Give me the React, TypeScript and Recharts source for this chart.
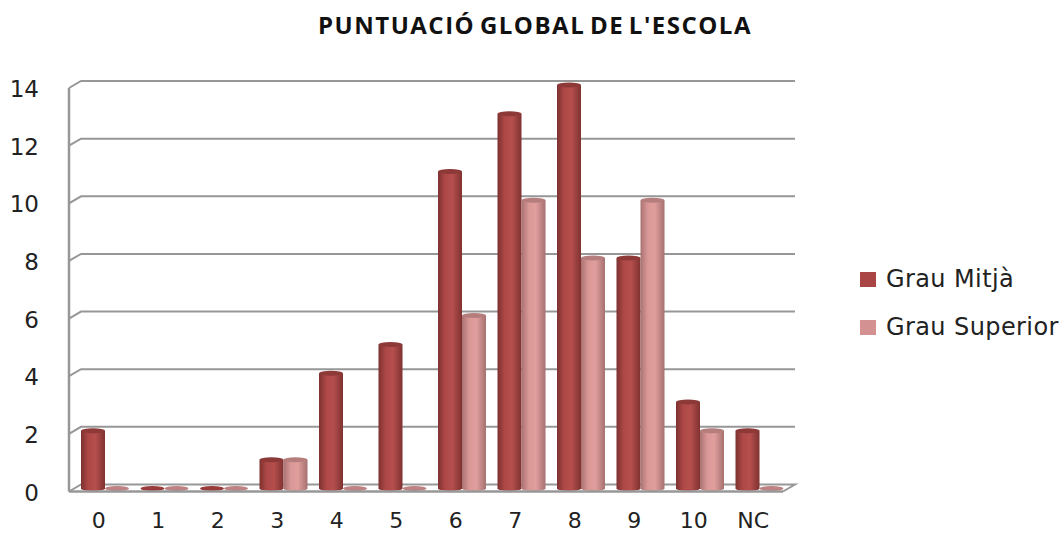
import { BarChart, Bar, XAxis, YAxis, CartesianGrid, Legend } from 'recharts'

const categories = ['0', '1', '2', '3', '4', '5', '6', '7', '8', '9', '10', 'NC']
const grauMitja = [2, 0, 0, 1, 4, 5, 11, 13, 14, 8, 3, 2]
const grauSuperior = [0, 0, 0, 1, 0, 0, 6, 10, 8, 10, 2, 0]
const yTicks = [0, 2, 4, 6, 8, 10, 12, 14]

const chartData = categories.map((name, i) => ({
  name,
  mitja: grauMitja[i],
  superior: grauSuperior[i],
}))

const TITLE_FONT = '"Open Sans", "Noto Sans", sans-serif'
const FONT = '"DejaVu Sans", sans-serif'
const WALL = '#979797'
const DEPTH_X = 12
const DEPTH_Y = 7
const PLOT_BOTTOM = 491.5

// Gridline with the short slanted segment that joins it to the back wall
function WallLine({ x1, x2, y1 }: any) {
  const back = y1 - DEPTH_Y
  const isFloor = y1 >= PLOT_BOTTOM - 1
  return (
    <path
      d={
        isFloor
          ? `M${x1},${y1} L${x1 + DEPTH_X},${back} L${x2 + DEPTH_X},${back} L${x2},${y1}`
          : `M${x1},${y1} L${x1 + DEPTH_X},${back} L${x2 + DEPTH_X},${back}`
      }
      fill="none"
      stroke={WALL}
      strokeWidth={2}
    />
  )
}

// Bars are drawn as cylinders standing in the middle of the chart's depth
function Cylinder({ x, y, width, height, gradient, cap, flat }: any) {
  const left = x + 6
  const rx = width / 2
  const ry = 2.5
  const top = y - 3
  const bottom = top + height
  if (!height) {
    return <ellipse cx={left + rx} cy={bottom} rx={rx} ry={2.5} fill={flat} />
  }
  return (
    <g>
      <path
        d={`M${left},${top} L${left},${bottom} A${rx},${ry} 0 0 0 ${left + width},${bottom} L${left + width},${top} Z`}
        fill={`url(#${gradient})`}
      />
      <ellipse cx={left + rx} cy={top} rx={rx} ry={ry} fill={cap} />
    </g>
  )
}

function LegendBox() {
  const rows = [
    { label: 'Grau Mitjà', color: '#a94645' },
    { label: 'Grau Superior', color: '#d39291' },
  ]
  return (
    <div style={{ fontFamily: FONT, fontSize: 24, letterSpacing: 0.4, color: '#222' }}>
      {rows.map((r) => (
        <div key={r.label} style={{ height: 48, display: 'flex', alignItems: 'center', whiteSpace: 'nowrap' }}>
          <span style={{ width: 16, height: 15, background: r.color, marginRight: 10, display: 'inline-block' }} />
          {r.label}
        </div>
      ))}
    </div>
  )
}

export default function App() {
  return (
    <div style={{ position: 'absolute', left: 0, top: 0, width: 1062, height: 536, background: '#fff' }}>
      <div
        style={{
          position: 'absolute',
          left: 0,
          width: 1070,
          top: 11,
          textAlign: 'center',
          fontFamily: TITLE_FONT,
          fontWeight: 700,
          fontSize: 24,
          letterSpacing: 1.5,
          wordSpacing: -3,
          color: '#111',
          lineHeight: '28px',
        }}
      >
        PUNTUACIÓ GLOBAL DE L'ESCOLA
      </div>
      <BarChart
        width={1062}
        height={536}
        data={chartData}
        margin={{ top: 88, right: 279, bottom: 0, left: 0 }}
        barGap={0}
        barSize={24}
      >
        <defs>
          <linearGradient id="cylDark" x1="0" y1="0" x2="1" y2="0">
            <stop offset="0" stopColor="#7c3130" />
            <stop offset="0.3" stopColor="#ad4846" />
            <stop offset="0.6" stopColor="#b54f4d" />
            <stop offset="1" stopColor="#7f3231" />
          </linearGradient>
          <linearGradient id="cylLight" x1="0" y1="0" x2="1" y2="0">
            <stop offset="0" stopColor="#a87372" />
            <stop offset="0.3" stopColor="#d99796" />
            <stop offset="0.6" stopColor="#e09e9d" />
            <stop offset="1" stopColor="#a57170" />
          </linearGradient>
        </defs>
        <CartesianGrid vertical={false} horizontal={(p: any) => <WallLine key={p.index} {...p} />} />
        <XAxis
          dataKey="name"
          height={44.5}
          axisLine={{ stroke: WALL, strokeWidth: 2.5 }}
          tickLine={false}
          tickSize={0}
          tickMargin={21}
          tick={{ fontFamily: FONT, fontSize: 22, fill: '#222' }}
          interval={0}
        />
        <YAxis
          type="number"
          domain={[0, 14]}
          ticks={yTicks}
          width={69}
          axisLine={{ stroke: WALL, strokeWidth: 2.5 }}
          tickLine={false}
          tickSize={0}
          tickMargin={30}
          tick={{ fontFamily: FONT, fontSize: 23, fill: '#222', dy: 1 }}
        />
        <Legend
          layout="vertical"
          align="center"
          verticalAlign="middle"
          wrapperStyle={{ left: 860, top: 255, width: 202, height: 96 }}
          content={<LegendBox />}
        />
        <Bar
          dataKey="mitja"
          name="Grau Mitjà"
          isAnimationActive={false}
          shape={<Cylinder gradient="cylDark" cap="#8c3938" flat="#983b3a" />}
        />
        <Bar
          dataKey="superior"
          name="Grau Superior"
          isAnimationActive={false}
          shape={<Cylinder gradient="cylLight" cap="#b57d7c" flat="#bd8281" />}
        />
      </BarChart>
    </div>
  )
}
